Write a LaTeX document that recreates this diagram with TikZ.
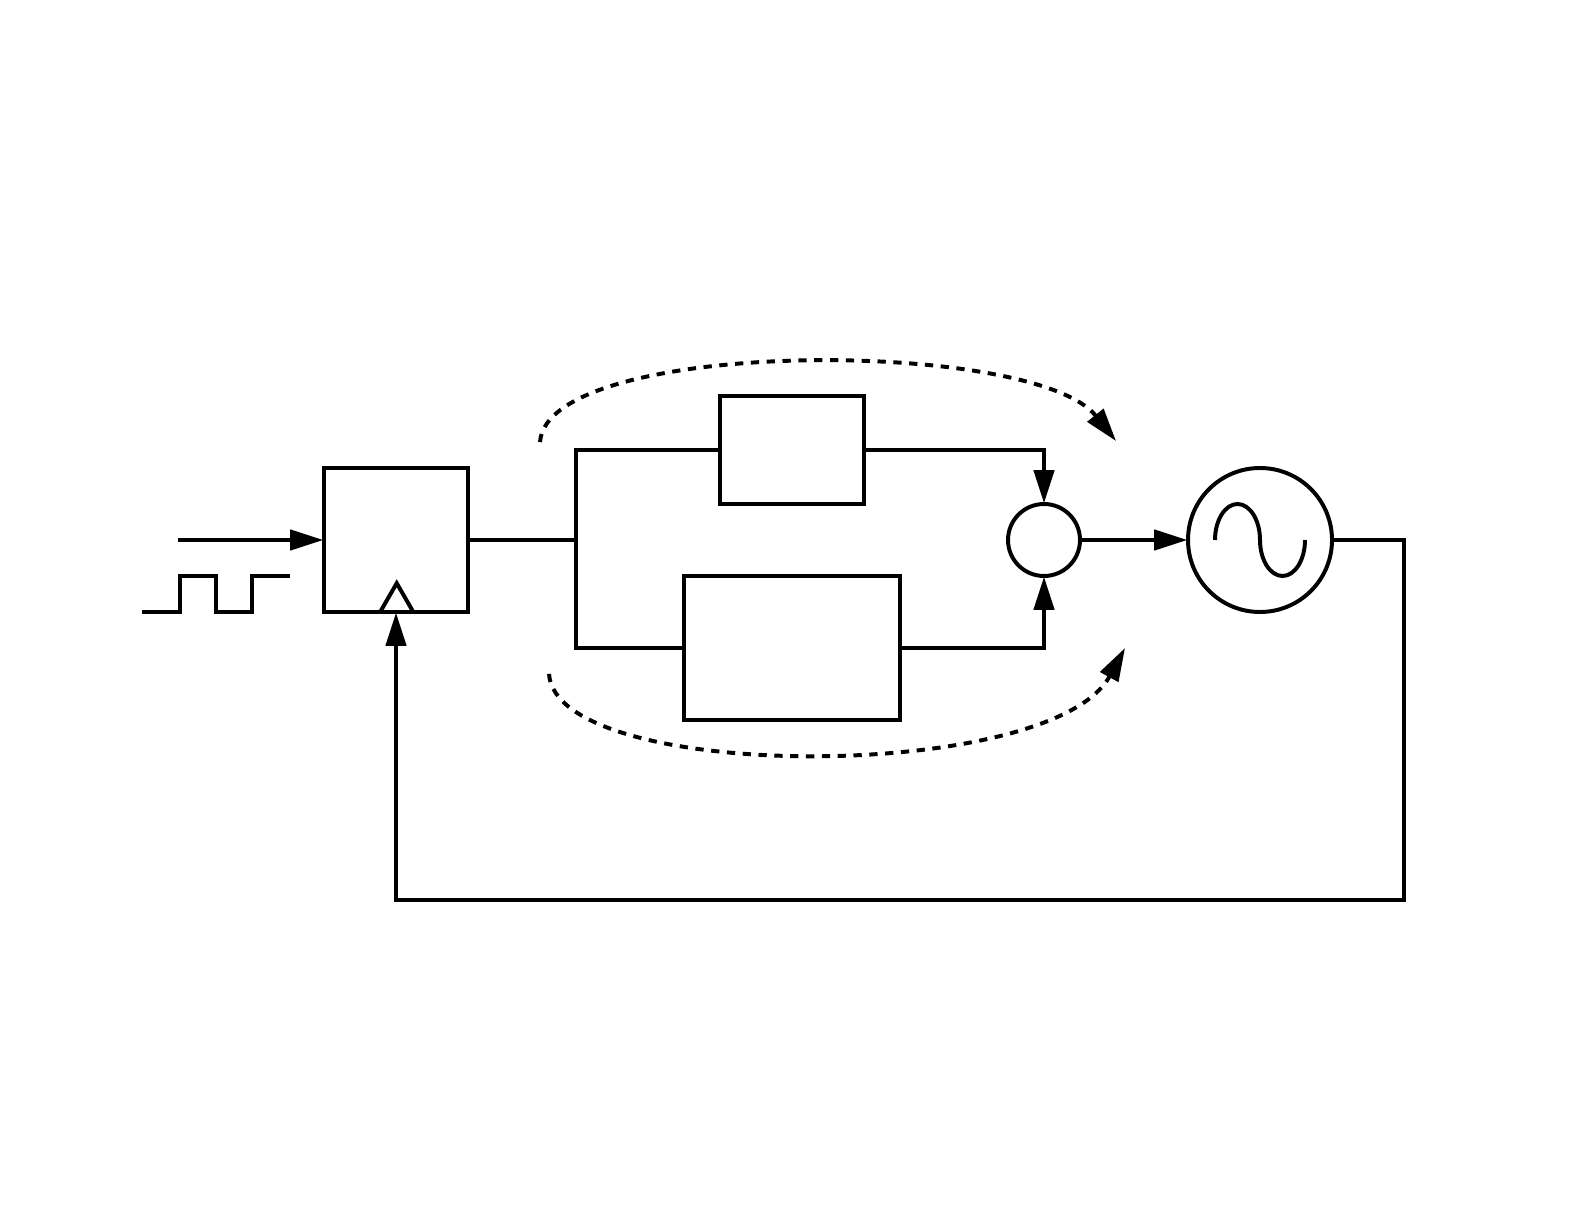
\documentclass[tikz,border=0pt]{standalone}
\usepackage{xcolor}
\usepackage{tikz}
\usetikzlibrary{arrows.meta,positioning,calc}
\tikzset{
  bloc/.style={draw,inner sep=0pt,outer sep=0.02cm},
  fleche/.style={-{Triangle[length=0.92cm,width=0.56cm]}},
  tirets/.style={dash pattern=on 0.23cm off 0.21cm}
}

\begin{document}
\begin{tikzpicture}[line width=0.11cm]
    \useasboundingbox (0,15) rectangle (44,-18.944);
    \node[bloc,minimum width=4cm,minimum height=4cm] (comp) at (11,0){};
    \node[bloc,minimum width=4cm,minimum height=3cm] (haut) at (22,2.5){};
    \node[bloc,minimum width=6cm,minimum height=4cm] (bas) at (22,-3){};
    \node[bloc,circle,minimum size=2cm] (somme) at (29,0){};
    \node[bloc,circle,minimum size=4cm] (vco) at (35,0){};
    \coordinate (entree) at (4.95,0);
    \coordinate (noeud) at (16,0);
    \coordinate (nh) at (16,2.5);
    \coordinate (nb) at (16,-3);
    \coordinate (retour) at (39,-10);
    \coordinate (dh) at (15,2.72);
    \coordinate (fh) at (31,2.75);
    \coordinate (db) at (15.25,-3.72);
    \coordinate (fb) at (31.25,-3);
    \draw[fleche] (entree) -- (comp.west);
    \draw (comp.east) -- (noeud);
    \draw (haut.west) -- (nh) -- (nb) -- (bas.west);
    \draw[fleche] (haut.east) -| (somme.north);
    \draw[fleche] (bas.east) -| (somme.south);
    \draw[fleche] (somme.east) -- (vco.west);
    \draw[fleche] (vco.east) -| (retour) -| (comp.south);
    \draw (3.94,-2) -- (5,-2) -- (5,-1) -- (6,-1) -- (6,-2) -- (7,-2) -- (7,-1) -- (8.05,-1);
    \draw (10.56,-2) -- (11.02,-1.2) -- (11.48,-2);
    \draw (33.75,0) arc[start angle=180,end angle=0,x radius=0.625,y radius=1]
          arc[start angle=180,end angle=360,x radius=0.625,y radius=1];
    \draw[fleche,tirets] (dh) .. controls (15.2,5.62) and (28.7,5.62) .. (fh);
    \draw[fleche,tirets] (db) .. controls (15.45,-6.76) and (29.2,-6.76) .. (fb);
  \end{tikzpicture}
\end{document}
